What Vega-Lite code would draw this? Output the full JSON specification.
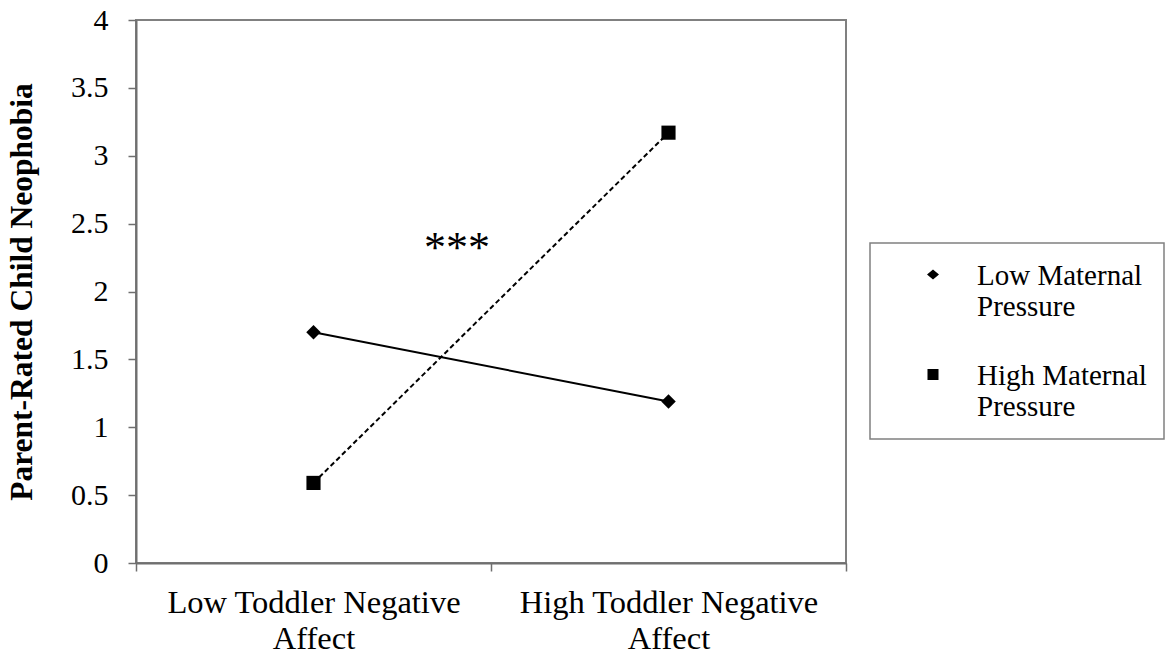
{
  "$schema": "https://vega.github.io/schema/vega-lite/v6.json",
  "width": 710,
  "height": 543,
  "autosize": {"type": "none"},
  "padding": {"left": 136, "top": 20, "right": 327, "bottom": 93},
  "background": "white",
  "config": {
    "font": "Liberation Serif",
    "view": {"stroke": "#808080", "strokeWidth": 2},
    "axis": {
      "grid": false,
      "domainColor": "#6f6f6f",
      "domainWidth": 2,
      "tickColor": "#6f6f6f",
      "tickWidth": 1.5,
      "tickSize": 8,
      "labelFont": "Liberation Serif",
      "labelColor": "black",
      "titleColor": "black",
      "titleFont": "Liberation Serif"
    },
    "legend": {"strokeWidth": 1.5}
  },
  "data": {
    "values": [
      {"affect": "Low Toddler Negative Affect", "pressure": "Low Maternal Pressure", "value": 1.70},
      {"affect": "High Toddler Negative Affect", "pressure": "Low Maternal Pressure", "value": 1.19},
      {"affect": "Low Toddler Negative Affect", "pressure": "High Maternal Pressure", "value": 0.59},
      {"affect": "High Toddler Negative Affect", "pressure": "High Maternal Pressure", "value": 3.17}
    ]
  },
  "encoding": {
    "x": {
      "field": "affect",
      "type": "nominal",
      "scale": {
        "domain": ["Low Toddler Negative Affect", "High Toddler Negative Affect"],
        "paddingInner": 0,
        "paddingOuter": 0
      },
      "axis": {
        "title": null,
        "labelAngle": 0,
        "tickBand": "extent",
        "labelFontSize": 32.5,
        "labelLineHeight": 36,
        "labelPadding": 15,
        "labelLimit": 600,
        "labelExpr": "indexof(datum.label, ' Affect') > 0 ? [replace(datum.label, ' Affect', ''), 'Affect'] : ''"
      }
    },
    "y": {
      "field": "value",
      "type": "quantitative",
      "scale": {"domain": [0, 4], "nice": false},
      "axis": {
        "title": "Parent-Rated Child Neophobia",
        "titleFontSize": 31.5,
        "titleFontWeight": "bold",
        "titlePadding": 32,
        "values": [0, 0.5, 1, 1.5, 2, 2.5, 3, 3.5, 4],
        "format": "~g",
        "labelFontSize": 30,
        "labelPadding": 20
      }
    }
  },
  "layer": [
    {
      "transform": [{"filter": "datum.pressure == 'Low Maternal Pressure'"}],
      "mark": {"type": "line", "color": "black", "strokeWidth": 2},
      "encoding": {}
    },
    {
      "transform": [{"filter": "datum.pressure == 'High Maternal Pressure'"}],
      "mark": {"type": "line", "color": "black", "strokeWidth": 2, "strokeDash": [5, 3]},
      "encoding": {}
    },
    {
      "transform": [{"filter": "datum.pressure == 'Low Maternal Pressure'"}],
      "mark": {"type": "point", "shape": "diamond", "filled": true, "color": "black", "size": 210, "opacity": 1},
      "encoding": {}
    },
    {
      "transform": [{"filter": "datum.pressure == 'High Maternal Pressure'"}],
      "mark": {"type": "point", "shape": "square", "filled": true, "color": "black", "size": 200, "opacity": 1},
      "encoding": {}
    },
    {
      "transform": [{"filter": "false"}],
      "mark": {"type": "point", "filled": false, "fill": "black", "stroke": "black", "color": "black", "strokeWidth": 2, "opacity": 1, "size": 900},
      "encoding": {
        "shape": {
          "field": "pressure",
          "type": "nominal",
          "scale": {
            "domain": ["Low Maternal Pressure", "High Maternal Pressure"],
            "range": [
              "M -2.333 -0.1 L 2.333 -0.1 M 0 -0.433 L 0.4 -0.1 L 0 0.233 L -0.4 -0.1 Z",
              "M -2.333 -0.1 L -1.867 -0.1 M -1.667 -0.1 L -1.2 -0.1 M -1 -0.1 L -0.533 -0.1 M 0.667 -0.1 L 1.333 -0.1 M 1.667 -0.1 L 2.333 -0.1 M -0.367 -0.467 L 0.367 -0.467 L 0.367 0.267 L -0.367 0.267 Z"
            ]
          },
          "legend": {
            "title": null,
            "orient": "none",
            "legendX": 734,
            "legendY": 223,
            "padding": 17,
            "strokeColor": "#808080",
            "fillColor": "white",
            "symbolSize": 900,
            "symbolOpacity": 1,
            "symbolStrokeWidth": 2,
            "symbolStrokeColor": "black",
            "symbolFillColor": "black",
            "symbolOffset": 30,
            "labelFont": "Liberation Serif",
            "labelFontSize": 29,
            "labelLineHeight": 33,
            "labelColor": "black",
            "labelLimit": 600,
            "labelOffset": 28,
            "rowPadding": 38,
            "labelExpr": "[replace(datum.label, ' Pressure', '') + '\u00a0\u00a0', 'Pressure']",
            "encoding": {
              "symbols": {
                "update": {
                  "stroke": {"value": "black"},
                  "strokeWidth": {"value": 2},
                  "fill": {"value": "black"},
                  "opacity": {"value": 1}
                }
              }
            }
          }
        }
      }
    },
    {
      "data": {"values": [{"affect": "Low Toddler Negative Affect", "value": 2.22, "label": "***"}]},
      "mark": {"type": "text", "font": "Liberation Serif", "fontSize": 44, "baseline": "alphabetic", "align": "center", "color": "black"},
      "encoding": {
        "x": {"field": "affect", "type": "nominal", "bandPosition": 0.904},
        "text": {"field": "label"}
      }
    }
  ]
}
